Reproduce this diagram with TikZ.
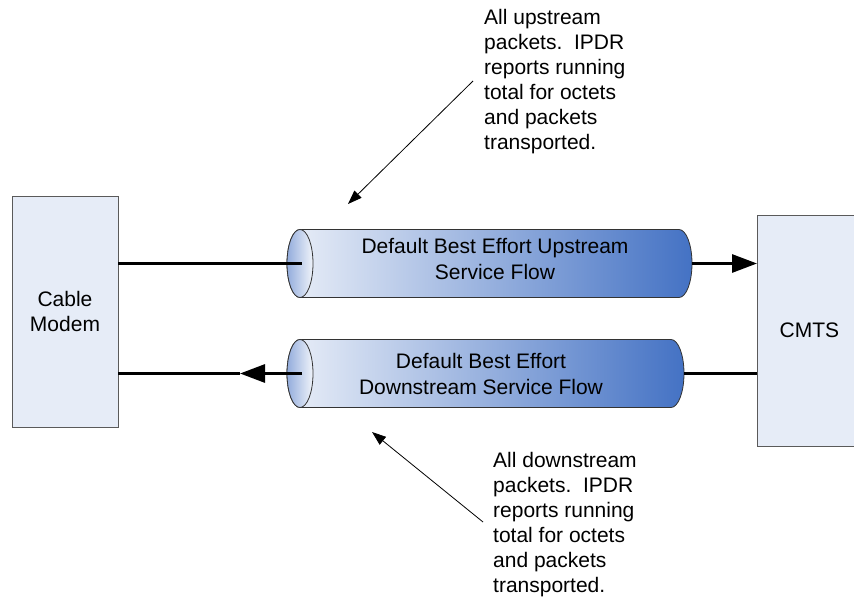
\documentclass[tikz,border=0pt]{standalone}
\usepackage{fontspec}
\setmainfont{Liberation Sans}
\usetikzlibrary{arrows.meta}
\definecolor{boxfill}{HTML}{E6ECF7}
\definecolor{boxline}{HTML}{5A5A5A}
\definecolor{pipedark}{HTML}{4472C4}
\definecolor{pipelight}{HTML}{EAEFF8}
\definecolor{pipemouth}{HTML}{93ACDC}
\definecolor{pipeinner}{HTML}{F0F4FA}

% service-flow pipe: #1 left x, #2 right x, #3 axis y
\newcommand\drawpipe[3]{%
  \path[draw=black!80, line width=0.8pt, left color=pipelight, right color=pipedark]
    (#1,#3+34) -- (#2,#3+34)
    arc[start angle=90, end angle=-90, x radius=13, y radius=34]
    -- (#1,#3-34)
    arc[start angle=270, end angle=90, x radius=13, y radius=34] -- cycle;
  \path[draw=black!80, line width=0.8pt, left color=pipemouth, right color=pipeinner]
    (#1,#3) ellipse[x radius=13, y radius=34];
}

\begin{document}
\begin{tikzpicture}[x=1pt, y=1pt,
  device/.style={draw=boxline, line width=0.8pt, fill=boxfill, inner sep=0pt,
    align=center, font=\fontsize{21}{25}\selectfont},
  link/.style={line width=3pt},
  bigtip/.style={-{Triangle[length=25pt, width=18pt]}},
  note/.style={anchor=north west, inner sep=0pt, align=left,
    font=\fontsize{21}{25}\selectfont},
  notearrow/.style={line width=0.8pt, -{Triangle[length=14pt, width=10pt]}},
  flowtext/.style={align=center, inner sep=0pt, font=\fontsize{21}{26}\selectfont}
]
\useasboundingbox (0,0) rectangle (854,600);

% end devices
\node[device, minimum width=106, minimum height=231] (cm) at (65,288.5) {Cable\\Modem};
\node[device, minimum width=104, minimum height=231, anchor=west] (cmts) at (757,269.5) {CMTS};

% service-flow pipes
\drawpipe{300}{679}{336.5}
\drawpipe{300}{671}{226.5}

\node[flowtext] (upflow) at (495,341.5) {Default Best Effort Upstream\\Service Flow};
\node[flowtext] (dnflow) at (481,226.5) {Default Best Effort\\Downstream Service Flow};

% pipe end points
\coordinate (upin) at (302,336.5);
\coordinate (upout) at (692,336.5);
\coordinate (dnin) at (684,226.5);
\coordinate (dnout) at (302,226.5);
\coordinate (dntip) at (240,226.5);

% traffic links
\draw[link] (cm.east |- upin) -- (upin);
\draw[link, bigtip] (upout) -- (cmts.west |- upout);
\draw[link] (cmts.west |- dnin) -- (dnin);
\draw[link, bigtip] (dnout) -- (dntip);
\draw[link] (dntip) -- (cm.east |- dntip);

% annotations
\node[note] (upnote) at (484,591) {All upstream\\packets.\ \ IPDR\\reports running\\total for octets\\and packets\\transported.};
\node[note] (dnnote) at (493,148) {All downstream\\packets.\ \ IPDR\\reports running\\total for octets\\and packets\\transported.};

\coordinate (uptail) at (473,519);
\coordinate (uphead) at (348,396);
\coordinate (dntail) at (483,78);
\coordinate (dnhead) at (372,168);
\draw[notearrow] (uptail) -- (uphead);
\draw[notearrow] (dntail) -- (dnhead);
\end{tikzpicture}
\end{document}
